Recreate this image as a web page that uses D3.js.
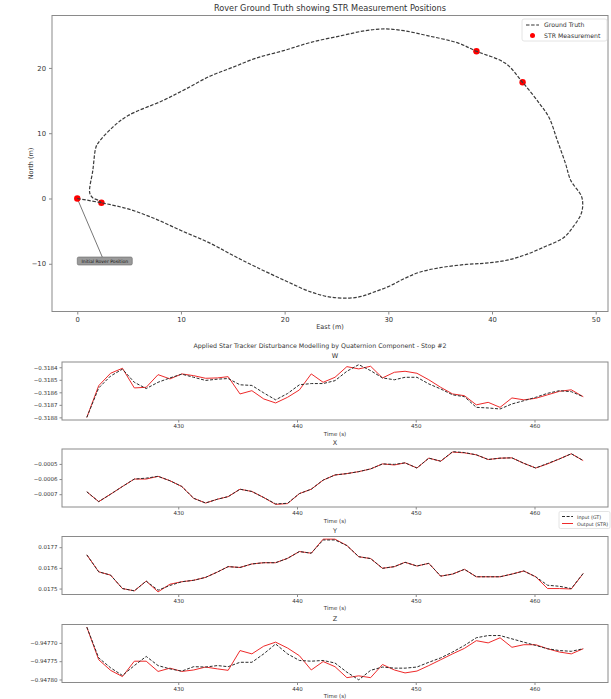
<!DOCTYPE html>
<html><head><meta charset="utf-8">
<script src="https://cdn.jsdelivr.net/npm/d3@7"></script>
<style>body{margin:0;background:#fff}svg{display:block;font-family:"DejaVu Sans",sans-serif}</style>
</head><body><svg id="c" width="611" height="699"></svg>
<script>
// ---------- Top chart data ----------
const trajEast = [0,2.33,4.9,7.5,10,12.75,15,17.25,20,22.5,24.4,26.25,27.4,28.5,30,31.5,33,35,37.5,39.4,41.3,43.1,45,46.9,47.8,48.6,48.75,48.6,47.6,47.1,46.3,45.5,44.6,42.95,41.3,38.5,36.75,33.75,31.5,29.6,27.75,25.5,22.5,19.9,17.25,15,12.75,10.5,8.25,4.9,3.4,2.06,1.8,1.5,1.2,1.5,2.06,2.33];
const trajNorth = [0,-0.66,-1.6,-3.1,-4.9,-6.8,-8.7,-10.5,-12.55,-14.3,-15.1,-15.25,-15,-14.4,-13.5,-12.3,-11.3,-10.6,-10.1,-9.9,-9.5,-8.7,-7.45,-6,-4.4,-2.35,-0.8,0.45,2.75,5.3,8.9,12.4,14.5,17.8,20.7,22.55,23.8,24.95,25.7,25.97,25.7,24.95,23.9,22.65,21.5,20.1,18.7,16.8,15,12.7,10.9,8.6,7.85,4.3,0.87,0.1,-0.3,-0.66];
const strEast = [0,2.33,38.5,42.95];
const strNorth = [0,-0.66,22.55,17.8];
const topXTicks = [0,10,20,30,40,50];
const topYTicks = [-10,0,10,20];

// ---------- Quaternion data ----------
const time = [422.3,423.3,424.3,425.3,426.3,427.3,428.3,429.3,430.3,431.3,432.3,433.3,434.2,435.2,436.2,437.2,438.2,439.2,440.2,441.2,442.2,443.2,444.2,445.2,446.2,447.2,448.2,449.1,450.1,451.1,452.1,453.1,454.1,455.1,456.1,457.1,458.1,459.1,460.1,461.1,462.1,463.1,464.1];
const wGT  = [-0.31880,-0.318565,-0.31847,-0.318415,-0.31852,-0.31857,-0.31852,-0.318485,-0.318455,-0.31848,-0.318505,-0.318495,-0.31849,-0.31854,-0.318545,-0.318605,-0.31866,-0.31861,-0.31854,-0.31853,-0.31853,-0.318507,-0.318432,-0.318379,-0.318427,-0.318485,-0.3185,-0.31848,-0.31848,-0.318533,-0.318573,-0.31862,-0.318635,-0.31872,-0.318725,-0.318733,-0.318693,-0.318667,-0.31864,-0.318608,-0.318587,-0.318595,-0.318635];
const wSTR = [-0.31880,-0.318547,-0.318448,-0.318408,-0.318565,-0.31856,-0.318459,-0.318493,-0.318453,-0.318467,-0.318488,-0.318485,-0.318475,-0.318613,-0.318587,-0.318653,-0.318685,-0.31864,-0.318581,-0.318453,-0.31852,-0.31848,-0.318395,-0.318413,-0.318392,-0.318485,-0.31844,-0.318432,-0.318448,-0.3185,-0.31856,-0.318613,-0.318627,-0.3187,-0.31868,-0.31872,-0.318645,-0.31866,-0.318648,-0.31862,-0.318592,-0.31858,-0.318635];
const xGT  = [-0.000684,-0.000749,-0.0007,-0.000649,-0.0006,-0.000594,-0.000582,-0.000611,-0.000649,-0.000727,-0.000758,-0.000733,-0.000716,-0.000667,-0.000682,-0.000722,-0.000764,-0.00076,-0.000696,-0.000667,-0.000607,-0.000573,-0.000564,-0.000551,-0.000533,-0.0005,-0.000503,-0.000493,-0.000527,-0.000462,-0.000482,-0.000419,-0.000425,-0.00044,-0.000471,-0.000462,-0.00046,-0.000496,-0.000527,-0.000497,-0.000467,-0.000433,-0.000478];
const xSTR = [-0.000684,-0.000749,-0.0007,-0.000649,-0.0006,-0.0006,-0.000582,-0.000611,-0.000649,-0.000727,-0.000758,-0.000733,-0.000716,-0.000667,-0.000682,-0.000722,-0.000767,-0.000762,-0.000696,-0.000667,-0.000607,-0.000573,-0.000564,-0.000551,-0.000533,-0.0005,-0.000507,-0.000493,-0.000527,-0.000462,-0.000482,-0.000422,-0.000427,-0.00044,-0.000471,-0.000462,-0.00046,-0.000496,-0.000527,-0.0005,-0.000467,-0.000433,-0.000478];
const yGT  = [0.017663,0.017581,0.017565,0.0175,0.017489,0.017536,0.017492,0.017515,0.017533,0.01754,0.017554,0.01758,0.017606,0.017602,0.017619,0.017625,0.017625,0.017646,0.017679,0.017671,0.017735,0.017735,0.017708,0.017654,0.017645,0.017598,0.017606,0.017627,0.017609,0.017622,0.01756,0.01757,0.017593,0.017557,0.017557,0.017557,0.01757,0.017585,0.017557,0.017516,0.017511,0.0175,0.017573];
const ySTR = [0.017663,0.017581,0.017565,0.0175,0.017489,0.017536,0.017484,0.017521,0.017533,0.01754,0.017554,0.01758,0.017606,0.017602,0.017619,0.017625,0.017625,0.017646,0.017679,0.017671,0.017739,0.017739,0.017708,0.017654,0.017645,0.017598,0.017606,0.017627,0.017609,0.017622,0.01756,0.01757,0.017593,0.017557,0.017557,0.017557,0.01757,0.017585,0.017557,0.0175,0.0175,0.017498,0.017573];
const zGT  = [-0.947657,-0.947741,-0.947768,-0.947789,-0.947762,-0.947737,-0.947762,-0.947771,-0.947777,-0.947765,-0.947766,-0.947762,-0.947765,-0.947753,-0.947753,-0.94773,-0.947703,-0.94773,-0.947748,-0.94775,-0.947748,-0.947755,-0.94778,-0.947801,-0.947775,-0.947766,-0.947769,-0.947769,-0.947766,-0.947753,-0.947741,-0.947725,-0.947707,-0.947686,-0.94768,-0.94768,-0.947689,-0.947698,-0.947707,-0.947716,-0.947721,-0.947723,-0.947716];
const zSTR = [-0.947657,-0.947746,-0.947775,-0.947792,-0.94775,-0.94775,-0.947778,-0.947769,-0.947778,-0.947774,-0.947766,-0.947771,-0.947775,-0.947721,-0.94773,-0.947709,-0.947698,-0.947714,-0.947735,-0.947774,-0.947751,-0.947765,-0.947795,-0.94779,-0.947795,-0.947759,-0.947774,-0.947782,-0.947777,-0.947762,-0.947746,-0.94773,-0.947715,-0.947694,-0.9477,-0.947686,-0.947712,-0.947705,-0.947705,-0.947716,-0.947725,-0.94773,-0.947716];
const panelNames = ["W","X","Y","Z"];
const timeTicks = [430,440,450,460];
const wTicks = [-0.3188,-0.3187,-0.3186,-0.3185,-0.3184];
const xTicks = [-0.0007,-0.0006,-0.0005];
const yTicks = [0.0175,0.0176,0.0177];
const zTicks = [-0.9478,-0.94775,-0.9477];

const svg = d3.select("#c");
const TXT = "#333", SP = "#8a8a8a", RED = "#ee2a2a", GTC = "#2b2b2b";
function pad(ext){const r=ext[1]-ext[0];return [ext[0]-0.05*r, ext[1]+0.05*r];}

// ================= TOP CHART =================
const T = {l:52, r:608, t:15.5, b:311.5};
const tx = d3.scaleLinear().domain(pad(d3.extent(trajEast))).range([T.l, T.r]);
const ty = d3.scaleLinear().domain(pad(d3.extent(trajNorth))).range([T.b, T.t]);
const gTop = svg.append("g");
gTop.append("rect").attr("x",T.l).attr("y",T.t).attr("width",T.r-T.l).attr("height",T.b-T.t).attr("fill","none").attr("stroke",SP).attr("stroke-width",1);
const axB = gTop.append("g").attr("transform",`translate(0,${T.b})`).call(d3.axisBottom(tx).tickValues(topXTicks).tickSize(3).tickPadding(3).tickFormat(d3.format("d")));
const axL = gTop.append("g").attr("transform",`translate(${T.l},0)`).call(d3.axisLeft(ty).tickValues(topYTicks).tickSize(3).tickPadding(3).tickFormat(d3.format("d")));
[axB,axL].forEach(a=>{a.select(".domain").remove();a.selectAll("line").attr("stroke",SP);a.selectAll("text").attr("fill",TXT).attr("font-size",6.8).attr("font-family","DejaVu Sans");});
gTop.append("text").attr("x",330).attr("y",10.5).attr("text-anchor","middle").attr("font-size",8.2).attr("fill",TXT).text("Rover Ground Truth showing STR Measurement Positions");
gTop.append("text").attr("x",330).attr("y",329).attr("text-anchor","middle").attr("font-size",6.5).attr("fill",TXT).text("East (m)");
gTop.append("text").attr("transform","translate(33,163.5) rotate(-90)").attr("text-anchor","middle").attr("font-size",6.5).attr("fill",TXT).text("North (m)");

// annotation arrow
const annX = tx(0)+25, annY = 257;
gTop.append("line").attr("x1",tx(0)).attr("y1",ty(0)).attr("x2",annX).attr("y2",annY).attr("stroke","#777").attr("stroke-width",1);
// STR points
gTop.selectAll("circle.str").data(strEast).enter().append("circle").attr("class","str")
  .attr("cx",(d,i)=>tx(d)).attr("cy",(d,i)=>ty(strNorth[i])).attr("r",3.2).attr("fill","#ff0000");
// trajectory
const trajLine = d3.line().x((d,i)=>tx(trajEast[i])).y((d,i)=>ty(trajNorth[i])).curve(d3.curveCatmullRom.alpha(0.5));
gTop.append("path").datum(trajEast).attr("d",trajLine).attr("fill","none").attr("stroke","#3a3a3a").attr("stroke-width",1.2).attr("stroke-dasharray","3.5,1.6");
// annotation box
const ann = gTop.append("g");
ann.append("rect").attr("x",tx(0)).attr("y",annY).attr("width",55).attr("height",8).attr("rx",1.5).attr("fill","#9a9a9a").attr("stroke","#666").attr("stroke-width",0.6);
ann.append("text").attr("x",tx(0)+27.5).attr("y",annY+5.8).attr("text-anchor","middle").attr("font-size",4.6).attr("fill","#111").text("Initial Rover Position");

// legend
const lg = gTop.append("g");
lg.append("rect").attr("x",522).attr("y",19).attr("width",85).attr("height",22).attr("rx",2).attr("fill","#fff").attr("stroke","#ddd").attr("stroke-width",0.8);
lg.append("line").attr("x1",526).attr("x2",539).attr("y1",25).attr("y2",25).attr("stroke","#333").attr("stroke-width",1.2).attr("stroke-dasharray","3.5,1.6");
lg.append("text").attr("x",544).attr("y",27.3).attr("font-size",6.2).attr("fill",TXT).text("Ground Truth");
lg.append("circle").attr("cx",532.5).attr("cy",35.5).attr("r",2.5).attr("fill","#ff0000");
lg.append("text").attr("x",544).attr("y",37.8).attr("font-size",6.2).attr("fill",TXT).text("STR Measurement");

// ================= BOTTOM PANELS =================
svg.append("text").attr("x",320).attr("y",348).attr("text-anchor","middle").attr("font-size",6.3).attr("fill",TXT)
  .text("Applied Star Tracker Disturbance Modelling by Quaternion Component - Stop #2");
const P = {l:62, r:608};
const tops = [362, 449, 536.5, 624.5];
const H = 58;
const gtSeries = [wGT,xGT,yGT,zGT];
const strSeries = [wSTR,xSTR,ySTR,zSTR];
const tickSets = [wTicks,xTicks,yTicks,zTicks];
const fmts = [d3.format(".4f"),d3.format(".4f"),d3.format(".4f"),d3.format(".5f")];
const bx = d3.scaleLinear().domain(pad(d3.extent(time))).range([P.l,P.r]);
panelNames.forEach((name,k)=>{
  const top = tops[k], bot = top+H;
  const g = svg.append("g");
  const all = gtSeries[k].concat(strSeries[k]);
  const by = d3.scaleLinear().domain(pad(d3.extent(all))).range([bot,top]);
  g.append("rect").attr("x",P.l).attr("y",top).attr("width",P.r-P.l).attr("height",H).attr("fill","none").attr("stroke",SP).attr("stroke-width",1);
  const ab = g.append("g").attr("transform",`translate(0,${bot})`).call(d3.axisBottom(bx).tickValues(timeTicks).tickSize(2.5).tickPadding(2).tickFormat(d3.format("d")));
  const al = g.append("g").attr("transform",`translate(${P.l},0)`).call(d3.axisLeft(by).tickValues(tickSets[k]).tickSize(2.5).tickPadding(2).tickFormat(fmts[k]));
  [ab,al].forEach(a=>{a.select(".domain").remove();a.selectAll("line").attr("stroke",SP);a.selectAll("text").attr("fill",TXT).attr("font-size",5.5).attr("font-family","DejaVu Sans");});
  g.append("text").attr("x",(P.l+P.r)/2).attr("y",top-4).attr("text-anchor","middle").attr("font-size",6.5).attr("fill",TXT).text(name);
  g.append("text").attr("x",(P.l+P.r)/2).attr("y",bot+15.5).attr("text-anchor","middle").attr("font-size",5.5).attr("fill",TXT).text("Time (s)");
  const ln = arr => d3.line().x((d,i)=>bx(time[i])).y(d=>by(d))(arr);
  g.append("path").attr("d",ln(strSeries[k])).attr("fill","none").attr("stroke",RED).attr("stroke-width",1);
  g.append("path").attr("d",ln(gtSeries[k])).attr("fill","none").attr("stroke",GTC).attr("stroke-width",1).attr("stroke-dasharray","3,1.6");
});
// bottom legend
const bl = svg.append("g");
bl.append("rect").attr("x",559).attr("y",511.5).attr("width",51).attr("height",17).attr("rx",1.5).attr("fill","#fff").attr("stroke","#ddd").attr("stroke-width",0.8);
bl.append("line").attr("x1",562).attr("x2",573).attr("y1",516.5).attr("y2",516.5).attr("stroke",GTC).attr("stroke-width",1).attr("stroke-dasharray","3,1.6");
bl.append("text").attr("x",577).attr("y",518.5).attr("font-size",4.8).attr("fill",TXT).text("Input (GT)");
bl.append("line").attr("x1",562).attr("x2",573).attr("y1",523.5).attr("y2",523.5).attr("stroke",RED).attr("stroke-width",1);
bl.append("text").attr("x",577).attr("y",525.5).attr("font-size",4.8).attr("fill",TXT).text("Output (STR)");
</script></body></html>
